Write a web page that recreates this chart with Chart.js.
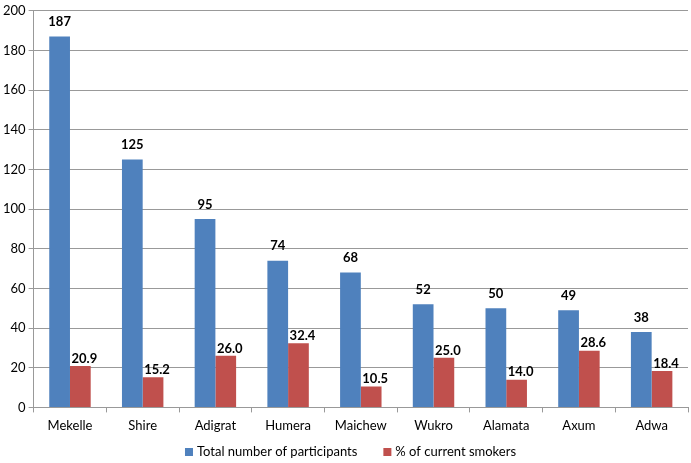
<!DOCTYPE html>
<html>
<head>
<meta charset="utf-8">
<script src="https://cdn.jsdelivr.net/npm/chart.js@4/dist/chart.umd.min.js"></script>
<style>
  html, body { margin: 0; padding: 0; background: #fff; }
  #wrap { width: 691px; height: 463px; position: relative; }
</style>
</head>
<body>
<div id="wrap"><canvas id="chart"></canvas></div>
<script>
// Smoking survey by town
const towns = ["Mekelle", "Shire", "Adigrat", "Humera", "Maichew", "Wukro", "Alamata", "Axum", "Adwa"];
const participants = [187, 125, 95, 74, 68, 52, 50, 49, 38];
const smokersPct = [20.9, 15.2, 26.0, 32.4, 10.5, 25.0, 14.0, 28.6, 18.4];
const yTicks = [0, 20, 40, 60, 80, 100, 120, 140, 160, 180, 200];

const FONT = "Lato, 'Open Sans', sans-serif";

// simple value labels above bars
const valueLabels = {
  id: "valueLabels",
  afterDatasetsDraw(chart) {
    const ctx = chart.ctx;
    ctx.save();
    ctx.font = "bold 13px " + FONT;
    ctx.fillStyle = "#000";
    ctx.textAlign = "center";
    ctx.textBaseline = "bottom";
    chart.data.datasets.forEach((ds, i) => {
      const meta = chart.getDatasetMeta(i);
      meta.data.forEach((bar, j) => {
        const v = ds.data[j];
        const txt = i === 1 ? v.toFixed(1) : String(v);
        const dy = i === 0 ? 8 : 1;
        const dx = i === 1 ? 4 : 0;
        ctx.fillText(txt, bar.x + dx, bar.y - dy);
      });
    });
    ctx.restore();
  }
};

// legend drawn by hand so the spacing matches the original
const bottomLegend = {
  id: "bottomLegend",
  afterDraw(chart) {
    const ctx = chart.ctx;
    const box = 8, gap = 4, itemGap = 26;
    const y = chart.height - 11;
    ctx.save();
    ctx.font = "13px " + FONT;
    ctx.textBaseline = "middle";
    ctx.textAlign = "left";
    const items = chart.data.datasets.map(ds => ({
      text: ds.label,
      color: ds.backgroundColor,
      w: box + gap + ctx.measureText(ds.label).width,
    }));
    const total = items.reduce((s, it) => s + it.w, 0) + itemGap * (items.length - 1);
    let x = chart.width / 2 + 5 - total / 2;
    items.forEach(it => {
      ctx.fillStyle = it.color;
      ctx.fillRect(x, y - box / 2, box, box);
      ctx.fillStyle = "#000";
      ctx.fillText(it.text, x + box + gap, y);
      x += it.w + itemGap;
    });
    ctx.restore();
  }
};

new Chart(document.getElementById("chart"), {
  type: "bar",
  data: {
    labels: towns,
    datasets: [
      {
        label: "Total number of participants",
        data: participants,
        backgroundColor: "#4F81BD",
        categoryPercentage: 0.57,
        barPercentage: 1.0,
      },
      {
        label: "% of current smokers",
        data: smokersPct,
        backgroundColor: "#C0504D",
        categoryPercentage: 0.57,
        barPercentage: 1.0,
      },
    ],
  },
  options: {
    responsive: true,
    maintainAspectRatio: false,
    animation: false,
    layout: { padding: { top: 0, right: 3, left: 0, bottom: 23 } },
    plugins: {
      tooltip: { enabled: false },
      legend: { display: false },
    },
    scales: {
      x: {
        grid: {
          offset: true,
          drawOnChartArea: false,
          color: "#999",
          tickLength: 5,
        },
        border: { color: "#999" },
        ticks: { color: "#000", font: { family: FONT, size: 13 }, padding: 6 },
      },
      y: {
        min: 0,
        max: 200,
        afterBuildTicks(axis) {
          axis.ticks = yTicks.map(v => ({ value: v }));
        },
        grid: { color: "#999", tickLength: 5 },
        border: { color: "#999" },
        ticks: { color: "#000", font: { family: FONT, size: 13 }, padding: 3 },
      },
    },
  },
  plugins: [valueLabels, bottomLegend],
});
</script>
</body>
</html>
